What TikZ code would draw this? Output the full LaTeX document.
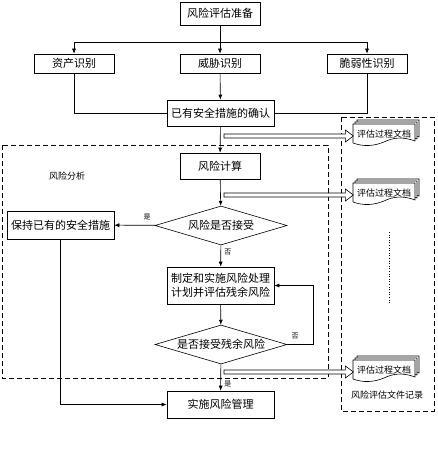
\documentclass[tikz,border=0pt]{standalone}
\usepackage{fontspec}
\setmainfont{Noto Sans CJK SC}
\usetikzlibrary{shapes.geometric,arrows.meta,calc}

\tikzset{
  box/.style={draw, minimum width=80pt, minimum height=23pt, inner sep=2pt,
    font=\fontsize{11}{14}\selectfont},
  wide/.style={box, minimum width=107pt},
  decide/.style={draw, diamond, aspect=3.4, inner sep=1pt, minimum width=132pt,
    minimum height=39pt, font=\fontsize{11}{13}\selectfont},
  arr/.style={-{Latex[length=5pt,width=4pt]}},
  note/.style={font=\fontsize{9}{11}\selectfont},
  tiny/.style={font=\fontsize{7}{8}\selectfont},
  zone/.style={draw, dash pattern=on 5pt off 3pt}
}

% stack of three documents with wavy bottoms
\newcommand\docstack[3]{%
  \foreach \o in {4,2,0} {
    \draw[fill=white, shift={(#2)}, shift={(\o,-\o)}]
      (-31,-10) -- (31,-10) -- (31,7)
      .. controls (18,2) and (8,4) .. (0,8)
      .. controls (-10,12) and (-20,13) .. (-31,9) -- cycle;
  }
  \node[note] (#1) at (#2) {#3};
}

% hollow arrow from #1 to #2 (same height)
\newcommand\hollowarrow[2]{%
  \draw[fill=white] ($(#1)+(0,-2)$) -- ($(#2)+(-8,-2)$) -- ($(#2)+(-8,-6)$)
    -- (#2) -- ($(#2)+(-8,6)$) -- ($(#2)+(-8,2)$) -- ($(#1)+(0,2)$) -- cycle;
}

\begin{document}
\begin{tikzpicture}[x=1pt, y=-1pt, line width=0.6pt]
  \useasboundingbox (0,0) rectangle (437,460);

  % dashed regions
  \draw[zone] (2,145) rectangle (328,378);
  \draw[zone] (341,117) rectangle (434,411);

  \node[box] (prep) at (220,13.5) {风险评估准备};
  \node[box, minimum height=19pt] (asset) at (74,63.5) {资产识别};
  \node[box, minimum height=19pt] (threat) at (220,63.5) {威胁识别};
  \node[box, minimum height=19pt] (vuln) at (367,63.5) {脆弱性识别};
  \node[wide, minimum height=26pt] (confirm) at (220.5,113) {已有安全措施的确认};
  \node[box, minimum height=26pt] (calc) at (220,166) {风险计算};
  \node[decide] (accept) at (221,225.5) {风险是否接受};
  \node[wide, minimum height=28pt] (keep) at (60.5,225) {保持已有的安全措施};
  \node[wide, minimum height=37pt, align=center] (plan) at (220.5,285.5)
    {制定和实施风险处理\\计划并评估残余风险};
  \node[decide] (resid) at (221,344.5) {是否接受残余风险};
  \node[wide, minimum height=27pt] (impl) at (220.5,404.5) {实施风险管理};

  \node[note] (zonea) at (67,176) {风险分析};
  \node[note] (zoneb) at (387,395) {风险评估文件记录};

  \docstack{doc1}{384,134}{评估过程文档}
  \docstack{doc2}{384,193}{评估过程文档}
  \docstack{doc3}{384,370}{评估过程文档}

  % connectors
  \coordinate (split) at (220,42);
  \draw (prep) -- (split);
  \draw[arr] (split) -| (asset);
  \draw[arr] (split) -| (vuln);
  \draw[arr] (split) -- (threat);
  \draw (asset) |- (confirm);
  \draw (vuln) |- (confirm);
  \draw[arr] (threat) -- (confirm);
  \draw[arr] (confirm) -- (calc);
  \draw[arr] (calc) -- (accept);
  \draw[arr] (accept) -- node[tiny, above=2pt, pos=0.2] {是} (keep);
  \draw[arr] (accept) -- node[tiny, right, pos=0.3] {否} (plan);
  \draw[arr] (plan) -- (resid);
  \coordinate (back) at (313,285.5);
  \draw[arr] (resid.east) -| node[tiny, above=2pt, pos=0.15] {否} (back) -- (plan.east);
  \draw[arr] (resid) -- node[tiny, right, pos=0.75] {是} (impl);
  \draw[arr] (keep) |- (impl);

  % outputs to the records
  \coordinate (out1) at (224,136);
  \coordinate (out2) at (224,195);
  \coordinate (out3) at (224,372);
  \coordinate (in1) at (out1 -| doc1.west);
  \coordinate (in2) at (out2 -| doc2.west);
  \coordinate (in3) at (out3 -| doc3.west);
  \hollowarrow{out1}{in1}
  \hollowarrow{out2}{in2}
  \hollowarrow{out3}{in3}

  \coordinate (more) at (389,232);
  \coordinate (last) at (389,304);
  \draw[dotted] (more) -- (last);
\end{tikzpicture}
\end{document}
